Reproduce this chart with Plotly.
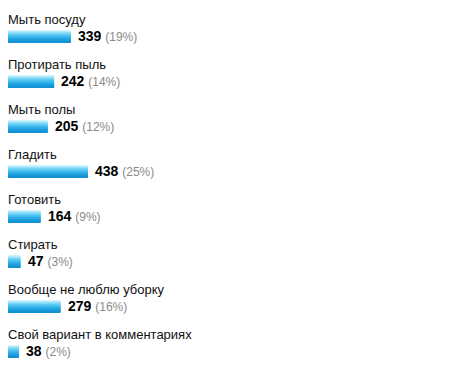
import plotly.graph_objects as go

categories = [
    "Мыть посуду",
    "Протирать пыль",
    "Мыть полы",
    "Гладить",
    "Готовить",
    "Стирать",
    "Вообще не люблю уборку",
    "Свой вариант в комментариях",
]
votes = [339, 242, 205, 438, 164, 47, 279, 38]
percents = ["19%", "14%", "12%", "25%", "9%", "3%", "16%", "2%"]

# styling
MIN_OFFSET = 25.5          # minimum visible bar length (in value units)
PX_PER_UNIT = 0.1725
BAR_LEFT_PX = 8
W, H = 450, 376
ROW_PX = 45.0
FIRST_ROW_PX = 36.0
BAR_H_PX = 12.0
FONT = "Arial, Liberation Sans, sans-serif"
gradient = ["#d2f4fe", "#b4ebfc", "#96e0f9", "#7ad6f6", "#62ccf3", "#4fc2f0",
            "#40b9ec", "#33b0e8", "#28a8e3", "#1fa0de", "#1899d9", "#1392d3"]

ypos = list(range(len(categories)))
bar_h = BAR_H_PX / ROW_PX
n = len(gradient)

fig = go.Figure()
for k, col in enumerate(gradient):
    fig.add_trace(go.Bar(
        y=ypos,
        x=[v + MIN_OFFSET for v in votes],
        base=-MIN_OFFSET,
        orientation="h",
        offset=-bar_h / 2 + k * bar_h / n,
        width=bar_h / n + 0.004,
        marker=dict(color=col, line=dict(width=0)),
        hoverinfo="skip",
        showlegend=False,
    ))

annotations = []
for i, (c, v, p) in enumerate(zip(categories, votes, percents)):
    annotations.append(dict(
        x=-MIN_OFFSET, y=i - 16.5 / ROW_PX, xref="x", yref="y",
        text=c, showarrow=False, xanchor="left", yanchor="middle",
        xshift=-2, font=dict(family=FONT, size=13, color="#111111"),
    ))
    annotations.append(dict(
        x=v, y=i, xref="x", yref="y",
        text=f"<b>{v}</b> <span style='font-size:12px;color:#8a8a8a'>({p})</span>",
        showarrow=False, xanchor="left", yanchor="middle", xshift=5,
        font=dict(family=FONT, size=14, color="#000000"),
    ))

x0 = -MIN_OFFSET - BAR_LEFT_PX / PX_PER_UNIT
x1 = x0 + W / PX_PER_UNIT
y_top = -FIRST_ROW_PX / ROW_PX
y_bot = (H - FIRST_ROW_PX) / ROW_PX

fig.update_layout(
    width=W, height=H,
    margin=dict(l=0, r=0, t=0, b=0),
    paper_bgcolor="white", plot_bgcolor="white",
    barmode="overlay",
    xaxis=dict(range=[x0, x1], visible=False, fixedrange=True),
    yaxis=dict(range=[y_bot, y_top], visible=False, fixedrange=True),
    annotations=annotations,
)
fig.write_html("out.html", config={"displayModeBar": False},
               post_script="document.body.style.margin='0';document.body.style.overflow='hidden';")
